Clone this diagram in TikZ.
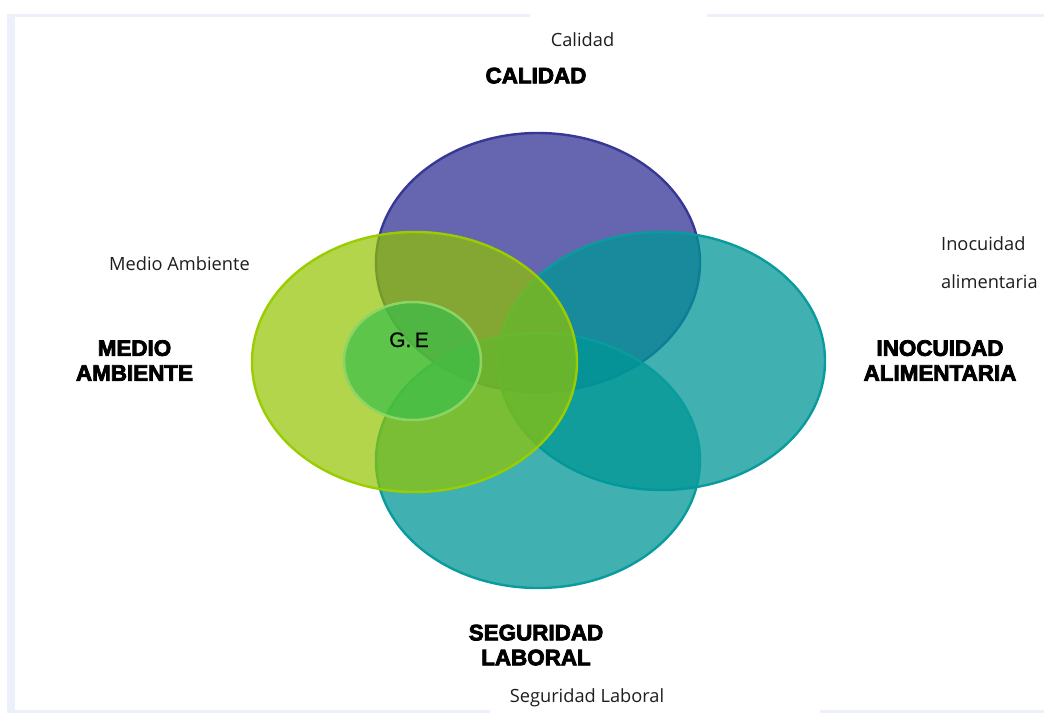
\documentclass[tikz,border=0pt]{standalone}
\usepackage{fontspec}
\setmainfont{Open Sans}
\newfontfamily\blockfont[FakeBold=3.5]{Liberation Sans Bold}
\newfontfamily\gefont[FakeBold=0.8]{Liberation Sans}
\usetikzlibrary{shapes.geometric}
\definecolor{frameC}{RGB}{236,241,249}
\definecolor{purpleFill}{RGB}{52,51,150}
\definecolor{purpleLine}{RGB}{55,55,150}
\definecolor{tealFill}{RGB}{0,151,150}
\definecolor{tealLine}{RGB}{10,155,158}
\definecolor{greenFill}{RGB}{146,196,0}
\definecolor{greenLine}{RGB}{154,205,0}
\definecolor{innerFill}{RGB}{55,190,75}
\definecolor{innerLine}{RGB}{140,212,100}
\definecolor{lightText}{RGB}{30,30,30}
\tikzset{
  bigc/.style={ellipse, inner sep=0pt, line width=2.4bp},
  blocklabel/.style={font=\blockfont\fontsize{22.5}{25}\selectfont, align=center, inner sep=0pt, anchor=north},
  softlabel/.style={font=\fontsize{18.3}{38}\selectfont, text=lightText, inner sep=0pt, anchor=base},
}
\begin{document}
\begin{tikzpicture}[x=1bp,y=-1bp]
\useasboundingbox (0,0) rectangle (1044,713);
\fill[white] (0,0) rectangle (1044,713);
% frame
\fill[frameC] (7,14) rectangle (530,17);
\fill[frameC] (707,14) rectangle (1044,17);
\fill[frameC] (7,14) rectangle (15,710);
\fill[frameC] (7,710) rectangle (490,713);
\fill[frameC] (820,710) rectangle (1044,713);
% circles
\node[bigc, fill=purpleFill, fill opacity=0.75, draw=purpleLine,
      minimum width=324bp, minimum height=259bp] (cal) at (538,262.5) {};
\node[bigc, fill=tealFill, fill opacity=0.75, draw=tealLine,
      minimum width=327bp, minimum height=258bp] (ino) at (661.5,361) {};
\node[bigc, fill=tealFill, fill opacity=0.75, draw=tealLine,
      minimum width=324bp, minimum height=255bp] (seg) at (538,460.5) {};
\node[bigc, fill=greenFill, fill opacity=0.7, draw=greenLine,
      minimum width=325bp, minimum height=260bp] (med) at (414.5,362) {};
\node[bigc, fill=innerFill, fill opacity=0.68, draw=innerLine, line width=2.5bp,
      minimum width=137bp, minimum height=118bp] (ge) at (412.5,361) {};
\node[font=\gefont\fontsize{21}{24}\selectfont, inner sep=0pt, anchor=base] (gelabel) at (409,347) {G.\,E};
% block labels
\node[blocklabel] (calB) at (536,67.5) {CALIDAD};
\node[blocklabel] (medB) at (134.5,340) {MEDIO\\AMBIENTE};
\node[blocklabel] (inoB) at (940,340) {INOCUIDAD\\ALIMENTARIA};
\node[blocklabel] (segB) at (536,624.5) {SEGURIDAD\\LABORAL};
% soft labels
\node[softlabel] (calS) at (582.5,46.5) {Calidad};
\node[softlabel] (medS) at (179.5,270) {Medio Ambiente};
\node[softlabel, anchor=north west, align=left] (inoS) at (941,236.5) {Inocuidad\\alimentaria};
\node[softlabel] (segS) at (587,702.5) {Seguridad Laboral};
\end{tikzpicture}
\end{document}
